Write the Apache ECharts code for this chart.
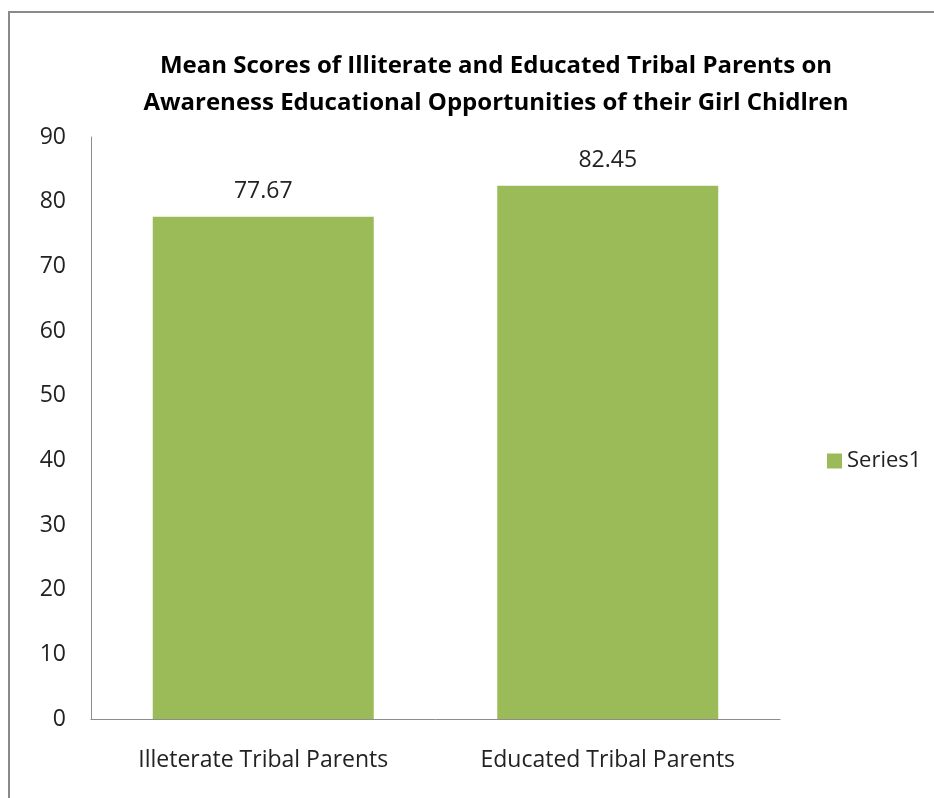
<!DOCTYPE html>
<html>
<head>
<meta charset="utf-8">
<script src="https://cdn.jsdelivr.net/npm/echarts@6/dist/echarts.min.js"></script>
<style>
  html, body { margin: 0; padding: 0; background: #fff; }
  #chart { width: 934px; height: 798px; }
</style>
</head>
<body>
<div id="chart"></div>
<script>
// data
const categories = ['Illeterate Tribal Parents', 'Educated Tribal Parents'];
const meanScores = [77.67, 82.45];
const seriesName = 'Series1';

(function () {
  let myChart = echarts.init(document.getElementById('chart'));
  let font = '"Open Sans", sans-serif';

  let option = {
    backgroundColor: '#fff',
    animation: false,
    title: {
      text: 'Mean Scores of Illiterate and Educated Tribal Parents on\nAwareness Educational Opportunities of their Girl Chidlren',
      left: 491,
      top: 43,
      textAlign: 'center',
      textStyle: {
        fontFamily: font,
        fontSize: 24,
        fontWeight: 'bold',
        color: '#000',
        lineHeight: 37
      }
    },
    legend: {
      orient: 'vertical',
      left: 822,
      top: 445,
      itemWidth: 15,
      itemHeight: 15,
      itemGap: 6,
      icon: 'rect',
      textStyle: { fontFamily: font, fontSize: 22, color: '#222' },
      data: [seriesName]
    },
    grid: {
      left: 91,
      right: 934 - 780,
      top: 137,
      bottom: 798 - 719
    },
    xAxis: {
      type: 'category',
      data: categories,
      axisLine: { lineStyle: { color: '#8c8c8c', width: 1 } },
      axisTick: { show: false },
      axisLabel: {
        margin: 30,
        fontFamily: font,
        fontSize: 23,
        color: '#222'
      }
    },
    yAxis: {
      type: 'value',
      min: 0,
      max: 90,
      interval: 10,
      splitLine: { show: false },
      axisLine: { show: true, lineStyle: { color: '#8c8c8c', width: 1 } },
      axisTick: { show: false },
      axisLabel: {
        margin: 25,
        fontFamily: font,
        fontSize: 23,
        color: '#222'
      }
    },
    series: [
      {
        name: seriesName,
        type: 'bar',
        data: meanScores,
        barWidth: 221,
        itemStyle: { color: '#9bbb59' },
        label: {
          show: true,
          position: 'top',
          distance: 14,
          fontFamily: font,
          fontSize: 23,
          color: '#222',
          formatter: function (p) { return p.value.toFixed(2); }
        }
      }
    ],
    graphic: [
      {
        type: 'rect',
        silent: true,
        shape: { x: 9, y: 12, width: 1000, height: 1000 },
        style: { fill: 'none', stroke: '#8a8a8a', lineWidth: 2 }
      }
    ]
  };

  myChart.setOption(option);
  window.addEventListener('resize', function () {
    myChart.resize();
  });
})();
</script>
</body>
</html>
